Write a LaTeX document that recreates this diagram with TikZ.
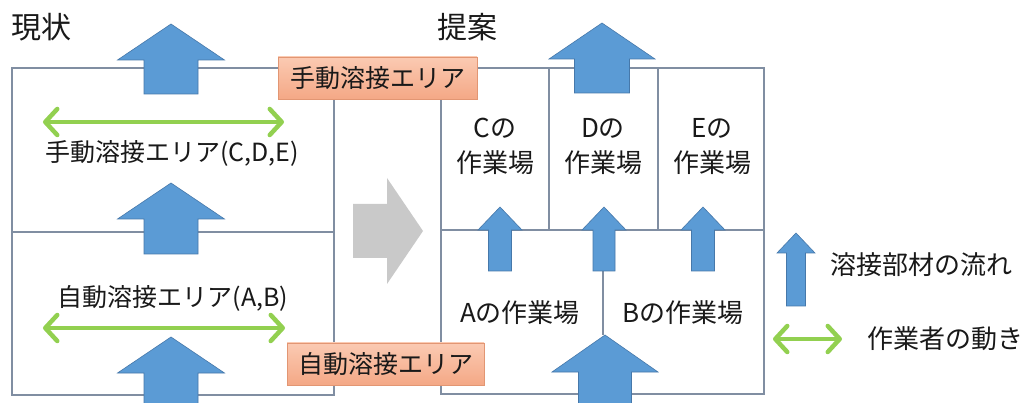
\documentclass[tikz,border=0pt]{standalone}
\usepackage{fontspec}
\setmainfont{Noto Sans CJK JP}
\usetikzlibrary{arrows.meta}
\definecolor{boxline}{RGB}{128,142,162}
\definecolor{flowblue}{RGB}{91,155,213}
\definecolor{flowedge}{RGB}{70,120,170}
\definecolor{workgreen}{RGB}{146,208,80}
\definecolor{lbltop}{RGB}{251,202,178}
\definecolor{lblbot}{RGB}{244,168,134}
\definecolor{lbledge}{RGB}{226,150,115}
\definecolor{grayfill}{RGB}{201,201,201}
\definecolor{txt}{RGB}{25,25,25}
\tikzset{
  wall/.style={draw=boxline, line width=1.3pt},
  blk/.style={fill=flowblue, draw=flowedge, line width=0.6pt, line join=miter},
  mover/.style={draw=workgreen, line width=4.5pt,
     {Straight Barb[length=12pt,width=26pt,line width=4.5pt,round]}-{Straight Barb[length=12pt,width=26pt,line width=4.5pt,round]}},
  arealabel/.style={draw=lbledge, line width=0.8pt, top color=lbltop, bottom color=lblbot,
     font=\fontsize{25}{28}\selectfont, text=txt, inner sep=0pt},
  lbl/.style={font=\fontsize{26}{30}\selectfont, text=txt, inner sep=0pt, align=center},
  arealbl/.style={font=\fontsize{25}{30}\selectfont, text=txt, inner sep=0pt},
  ttl/.style={font=\fontsize{30}{34}\selectfont, text=txt, inner sep=0pt},
}
\newcommand{\blockup}[6]{%
  \draw[blk] (#1,#2) -- (#1+#5,#3) -- (#1+#6,#3) -- (#1+#6,#4) -- (#1-#6,#4)
     -- (#1-#6,#3) -- (#1-#5,#3) -- cycle;}
\begin{document}
\begin{tikzpicture}[x=1pt,y=-1pt]
\useasboundingbox[fill=white] (0,0) rectangle (1031,403);
% walls
\draw[wall] (12,68) rectangle (334,395);
\draw[wall] (12,232) -- (334,232);
\draw[wall] (334,68) -- (441,68);
\draw[wall] (441,68) rectangle (764,394);
\draw[wall] (441,230) -- (764,230);
\draw[wall] (549,68) -- (549,230);
\draw[wall] (658,68) -- (658,230);
\draw[wall] (603,230) -- (603,335);
% gray transition arrow
\fill[grayfill] (353,204) -- (387,204) -- (387,178) -- (423,231) -- (387,284) -- (387,258) -- (353,258) -- cycle;
% blue flow arrows
\blockup{171}{24}{60}{94}{53.5}{27}
\blockup{171}{183}{219}{254}{53.5}{27}
\blockup{171}{337}{373}{410}{53.5}{27}
\blockup{602}{23}{59}{93}{53}{27.5}
\blockup{500}{207}{230}{271}{22}{11.5}
\blockup{604}{207}{230}{271}{22}{11}
\blockup{703}{207}{230}{271}{22}{11.5}
\blockup{605}{335}{372}{410}{53}{26.5}
\blockup{796}{233}{253}{306}{19}{9.5}
% worker movement
\coordinate (m1a) at (43,122); \coordinate (m1b) at (284,122);
\coordinate (m2a) at (43,328); \coordinate (m2b) at (285,328);
\coordinate (m3a) at (773,339); \coordinate (m3b) at (842,339);
\draw[mover] (m1a) -- (m1b);
\draw[mover] (m2a) -- (m2b);
\draw[mover] (m3a) -- (m3b);
% area labels
\node[arealabel, minimum width=199pt, minimum height=42pt] (manual) at (377.5,78) {手動溶接エリア};
\node[arealabel, minimum width=197pt, minimum height=42pt] (auto) at (385.5,364) {自動溶接エリア};
% titles
\node[ttl] (now) at (41,27) {現状};
\node[ttl] (prop) at (467,27) {提案};
% texts
\node[arealbl] (cde) at (172,153) {手動溶接エリア(C,D,E)};
\node[arealbl] (ab) at (173,298) {自動溶接エリア(A,B)};
\node[lbl] (c1) at (495,128) {Cの};
\node[lbl] (c2) at (495,163) {作業場};
\node[lbl] (d1) at (603,128) {Dの};
\node[lbl] (d2) at (603,163) {作業場};
\node[lbl] (e1) at (712,128) {Eの};
\node[lbl] (e2) at (712,163) {作業場};
\node[lbl] (wa) at (520,313) {Aの作業場};
\node[lbl] (wb) at (683,313) {Bの作業場};
\node[lbl, anchor=west] (leg1) at (830,265) {溶接部材の流れ};
\node[lbl, anchor=west] (leg2) at (867,339) {作業者の動き};
\end{tikzpicture}
\end{document}
